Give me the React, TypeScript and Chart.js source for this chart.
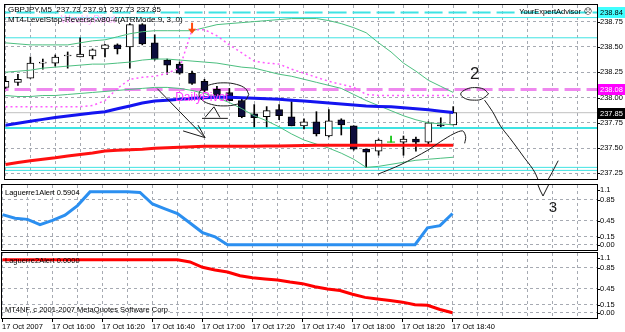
import React, { useEffect, useRef } from "react";
import { Chart, registerables } from "chart.js";

Chart.register(...registerables);

// ---------------- data ----------------
const HEADER_TEXT = "GBPJPY,M5  237.73 237.91 237.73 237.85";
const INDICATOR_TEXT = "MT4-LevelStop-Reverse-v80-4(ATRMode 9, 3, 0)";
const EA_TEXT = "YourExpertAdvisor";
const OSC1_TEXT = "Laguerre1Alert 0.5904";
const OSC2_TEXT = "Laguerre2Alert 0.0000";
const COPYRIGHT_TEXT = "MT4NF, c 2001-2007 MetaQuotes Software Corp.";
const WEEKLY_PIVOT_TEXT = "WeeklyPivot";
const DAILY_PIVOT_TEXT = "DailyPivot";

const X_LABELS = [
  "17 Oct 2007", "17 Oct 16:00", "17 Oct 16:20", "17 Oct 16:40", "17 Oct 17:00",
  "17 Oct 17:20", "17 Oct 17:40", "17 Oct 18:00", "17 Oct 18:20", "17 Oct 18:40",
];
const X_LABEL_BARS = [0, 4, 8, 12, 16, 20, 24, 28, 32, 36];

const OPEN = [238.10, 238.15, 238.19, 238.34, 238.34, 238.41, 238.40, 238.41, 238.48, 238.52, 238.50, 238.72, 238.54, 238.37, 238.33, 238.24, 238.16, 238.08, 238.05, 237.97, 237.84, 237.81, 237.88, 237.81, 237.72, 237.76, 237.62, 237.78, 237.72, 237.49, 237.47, 237.56, 237.56, 237.59, 237.56, 237.73, 237.73];
const HIGH = [238.21, 238.23, 238.40, 238.38, 238.42, 238.45, 238.59, 238.48, 238.525, 238.53, 238.73, 238.73, 238.62, 238.38, 238.35, 238.26, 238.18, 238.11, 238.09, 237.99, 237.93, 237.91, 237.93, 237.96, 237.79, 237.86, 237.88, 237.79, 237.72, 237.49, 237.59, 237.62, 237.62, 237.61, 237.76, 237.80, 237.91];
const LOW = [238.09, 238.12, 238.19, 238.28, 238.31, 238.29, 238.40, 238.38, 238.40, 238.43, 238.29, 238.52, 238.37, 238.23, 238.23, 238.13, 238.05, 238.00, 237.97, 237.80, 237.71, 237.71, 237.78, 237.72, 237.69, 237.62, 237.61, 237.63, 237.48, 237.31, 237.43, 237.56, 237.43, 237.47, 237.54, 237.71, 237.73];
const CLOSE = [238.16, 238.18, 238.34, 238.35, 238.40, 238.42, 238.43, 238.47, 238.52, 238.48, 238.72, 238.53, 238.38, 238.32, 238.24, 238.14, 238.07, 238.02, 237.97, 237.81, 237.80, 237.87, 237.82, 237.72, 237.76, 237.64, 237.77, 237.73, 237.49, 237.46, 237.58, 237.56, 237.59, 237.56, 237.75, 237.72, 237.85];

const MA_BLUE = [237.727, 237.746, 237.765, 237.784, 237.803, 237.817, 237.832, 237.846, 237.860, 237.889, 237.917, 237.946, 237.965, 237.974, 237.984, 237.993, 237.998, 238.003, 238.003, 237.998, 237.993, 237.988, 237.984, 237.974, 237.965, 237.955, 237.946, 237.936, 237.927, 237.917, 237.912, 237.908, 237.898, 237.889, 237.879, 237.865, 237.851];
const MA_RED = [237.338, 237.357, 237.376, 237.390, 237.404, 237.423, 237.437, 237.452, 237.471, 237.480, 237.485, 237.490, 237.499, 237.504, 237.509, 237.513, 237.518, 237.518, 237.518, 237.518, 237.518, 237.520, 237.522, 237.524, 237.526, 237.528, 237.528, 237.528, 237.528, 237.528, 237.528, 237.528, 237.528, 237.528, 237.528, 237.528, 237.528];
const BAND_UPPER = [238.54, 238.53, 238.52, 238.52, 238.52, 238.52, 238.54, 238.56, 238.57, 238.60, 238.63, 238.65, 238.66, 238.66, 238.66, 238.66, 238.69, 238.72, 238.73, 238.74, 238.75, 238.76, 238.77, 238.78, 238.78, 238.78, 238.76, 238.73, 238.69, 238.64, 238.54, 238.45, 238.34, 238.26, 238.17, 238.11, 238.05];
const BAND_MID = [238.25, 238.26, 238.27, 238.29, 238.30, 238.31, 238.32, 238.33, 238.33, 238.34, 238.35, 238.37, 238.38, 238.38, 238.37, 238.36, 238.35, 238.34, 238.32, 238.30, 238.29, 238.26, 238.23, 238.21, 238.18, 238.15, 238.12, 238.09, 238.03, 237.97, 237.92, 237.87, 237.82, 237.78, 237.75, 237.74, 237.73];
const BAND_LOWER = [238.02, 238.01, 238.01, 238.02, 238.02, 238.03, 238.04, 238.05, 238.06, 238.07, 238.08, 238.09, 238.10, 238.10, 238.09, 238.07, 238.04, 238.00, 237.95, 237.89, 237.82, 237.77, 237.71, 237.64, 237.58, 237.54, 237.50, 237.45, 237.39, 237.31, 237.32, 237.34, 237.36, 237.38, 237.39, 237.40, 237.41];
const STOP_LINE = [237.91, 237.91, 237.91, 237.91, 237.91, 237.91, 237.91, 237.92, 237.97, 238.09, 238.18, 238.20, 238.21, 238.24, 238.29, 238.67, 238.67, 238.61, 238.52, 238.44, 238.36, 238.34, 238.33, 238.28, 238.24, 238.20, 238.16, 238.13, 238.10, 238.03, 238.02, 238.02, 238.02, 238.02, 238.02, 238.02, 238.02];

const LAGUERRE1 = [0.57, 0.50, 0.48, 0.38, 0.46, 0.56, 0.74, 1, 1, 1, 1, 0.99, 0.77, 0.68, 0.59, 0.41, 0.23, 0.15, 0, 0, 0, 0, 0, 0, 0, 0, 0, 0, 0, 0, 0, 0, 0, 0, 0.32, 0.36, 0.5904];
const LAGUERRE2 = [1, 1, 1, 1, 1, 1, 1, 1, 1, 1, 1, 1, 1, 1, 1, 0.96, 0.86, 0.81, 0.77, 0.70, 0.66, 0.64, 0.62, 0.58, 0.55, 0.49, 0.45, 0.42, 0.35, 0.29, 0.26, 0.23, 0.20, 0.15, 0.14, 0.06, 0];

const PRICE_TICKS = [238.75, 238.5, 238.25, 238.0, 237.75, 237.5, 237.25];
const OSC_TICKS = [1.1, 0.85, 0.45, 0.15, 0];
const OSC_TICK_TEXT = ["1.1", "0.85", "0.45", "0.15", "0.00"];
const OSC_GRID = [0.85, 0.45, 0.15, 0];

const CYAN_LEVELS = [238.79, 238.59, 237.31, 237.28];
const CYAN_THICK_LEVEL = 237.70;
const CYAN_DASHED_LEVEL = 238.84;
const PIVOT_LEVEL = 238.08;
const BID = 237.85;

const SIGNAL_ARROW = [15, 238.63];
const WEEKLY_LABEL_AT = [4.44, 238.762];
const DAILY_LABEL_AT = [13.64, 238.0];
const NOTE_2_AT = [37.72, 238.231];
const NOTE_3_AT = [44.04, 0.695];

// hand-drawn annotations (bar index, price / oscillator value)
const NOTE_ARROW_SHAFT = [[12.2, 238.088], [16.04, 237.604]];
const NOTE_ARROW_HEAD = [[14.28, 237.67], [16.04, 237.604], [15.48, 237.727]];
const NOTE_OVAL_LEFT = [[19.56, 238.031], [19.3, 237.974], [18.56, 237.932], [17.56, 237.917], [16.56, 237.932], [15.82, 237.974], [15.56, 238.031], [15.82, 238.088], [16.56, 238.13], [17.56, 238.145], [18.56, 238.13], [19.3, 238.088], [19.56, 238.031]];
const NOTE_TRIANGLE = [[16.04, 237.803], [16.76, 237.908], [17.24, 237.803]];
const NOTE_BASE = [[15.8, 237.794], [17.88, 237.794]];
const NOTE_OVAL_RIGHT = [[38.84, 238.036], [38.28, 237.984], [37.72, 237.974], [37.0, 237.988], [36.6, 238.036], [37.08, 238.083], [37.72, 238.098], [38.44, 238.083], [38.84, 238.036]];
const NOTE_CURVE = [[38.52, 237.974], [39.16, 237.861], [39.8, 237.718], [40.52, 237.604], [41.16, 237.499], [41.72, 237.404], [42.2, 237.328], [42.6, 237.252], [42.92, 237.157]];
const NOTE_V_RIGHT = [[43.48, 237.157], [43.96, 237.262], [44.44, 237.376]];
const NOTE_V_OSC = [[42.68, 1.225], [43.0, 1.035], [43.24, 0.922], [43.56, 1.073], [43.96, 1.262]];
const NOTE_RISE = [[29.96, 237.243], [31.8, 237.338], [33.96, 237.48], [35.0, 237.566], [36.04, 237.642], [36.76, 237.67], [37.0, 237.613], [36.92, 237.547]];

// ---------------- styles ----------------
const X_MIN = -0.04;
const X_MAX = 47.56;
const GRID = "#a6aab2";
const CYAN = "#3fe3e3";
const PINK_DASH = "#ee88ee";
const PINK_DOT = "#ff5cff";
const GREEN_BAND = "#4cbf80";
const BLUE_MA = "#1414f0";
const RED_MA = "#ff1010";
const LAG_BLUE = "#2b8ff0";
const LAG_RED = "#ff0000";
const BEAR_FILL = "#0c0c3c";
const DOJI_GREEN = "#00c000";
const NOTE = "#1a1a1a";
const SMALL = "7.5px 'Liberation Sans', Arial, sans-serif";

const isDoji = (i: number) => OPEN[i] === CLOSE[i];

function seriesDs(values: number[], color: string, width: number, order: number, extra: any = {}) {
  return {
    type: "line",
    data: values.map((v, i) => ({ x: i, y: v })),
    borderColor: color,
    borderWidth: width,
    pointRadius: 0,
    fill: false,
    tension: 0,
    order,
    clip: 0,
    ...extra,
  };
}

function polyDs(points: number[][], color: string, width: number, order: number, extra: any = {}) {
  return {
    type: "line",
    data: points.map(([x, y]) => ({ x, y })),
    borderColor: color,
    borderWidth: width,
    pointRadius: 0,
    fill: false,
    tension: 0,
    order,
    clip: 0,
    ...extra,
  };
}

function levelDs(v: number, color: string, width: number, order: number, extra: any = {}) {
  return polyDs([[X_MIN - 1, v], [X_MAX + 1, v]], color, width, order, extra);
}

function baseOptions(yMin: number, yMax: number, padding: any) {
  return {
    responsive: false,
    animation: false,
    devicePixelRatio: 1,
    events: [],
    layout: { padding },
    plugins: { legend: { display: false }, tooltip: { enabled: false }, title: { display: false } },
    scales: {
      x: { type: "linear", min: X_MIN, max: X_MAX, display: false, offset: false },
      y: { type: "linear", min: yMin, max: yMax, display: false },
    },
  };
}

function panelPlugin(cfg: { gridY: number[]; ticks: number[]; tickText: string[]; draw?: (c: any) => void }) {
  return {
    id: "mt4panel",
    beforeDraw(chart: any) {
      const { ctx, chartArea: a } = chart;
      const xs = chart.scales.x;
      const ys = chart.scales.y;
      ctx.save();
      ctx.fillStyle = "#ffffff";
      ctx.fillRect(0, 0, chart.width, chart.height);
      ctx.strokeStyle = GRID;
      ctx.lineWidth = 1;
      ctx.setLineDash([3, 3]);
      ctx.beginPath();
      cfg.gridY.forEach((v) => {
        const y = Math.floor(ys.getPixelForValue(v)) + 0.5;
        ctx.moveTo(a.left, y);
        ctx.lineTo(a.right, y);
      });
      for (let b = 0; b <= X_MAX; b += 2) {
        const x = Math.floor(xs.getPixelForValue(b)) + 0.5;
        if (x > a.left && x < a.right) {
          ctx.moveTo(x, a.top);
          ctx.lineTo(x, a.bottom);
        }
      }
      ctx.stroke();
      ctx.restore();
    },
    afterDraw(chart: any) {
      const { ctx, chartArea: a } = chart;
      const ys = chart.scales.y;
      ctx.save();
      ctx.setLineDash([]);
      ctx.strokeStyle = "#000";
      ctx.lineWidth = 1;
      ctx.strokeRect(a.left - 0.5, a.top - 0.5, a.right - a.left + 1, a.bottom - a.top + 1);
      ctx.font = SMALL;
      ctx.textBaseline = "middle";
      ctx.textAlign = "left";
      ctx.fillStyle = "#000";
      cfg.ticks.forEach((v, i) => {
        let y = ys.getPixelForValue(v);
        y = Math.min(Math.max(y, a.top + 5), a.bottom - 4);
        const yy = Math.round(y) + 0.5;
        ctx.beginPath();
        ctx.moveTo(a.right + 0.5, yy);
        ctx.lineTo(a.right + 3, yy);
        ctx.stroke();
        ctx.fillText(cfg.tickText[i], a.right + 3, y);
      });
      if (cfg.draw) cfg.draw(chart);
      ctx.restore();
    },
  };
}

function priceBox(ctx: any, a: any, ys: any, v: number, bg: string, fg: string) {
  const y = ys.getPixelForValue(v);
  ctx.fillStyle = bg;
  ctx.fillRect(a.right + 1, Math.round(y) - 5, 28, 11);
  ctx.fillStyle = fg;
  ctx.font = SMALL;
  ctx.textAlign = "left";
  ctx.textBaseline = "middle";
  ctx.fillText(v.toFixed(2), a.right + 3, Math.round(y) + 0.5);
}

function buildMain() {
  const bars = OPEN.map((_, i) => i);
  const datasets: any[] = [
    levelDs(CYAN_DASHED_LEVEL, CYAN, 2, 20, { borderDash: [18, 6] }),
    ...CYAN_LEVELS.map((v) => levelDs(v, CYAN, 1, 20)),
    levelDs(CYAN_THICK_LEVEL, CYAN, 2, 20),
    levelDs(BID, "#c0c0c0", 1, 20),
    levelDs(PIVOT_LEVEL, PINK_DASH, 3, 19, { borderDash: [16, 6] }),
    {
      type: "bar",
      data: bars.map((i) => ({ x: i, y: [LOW[i], HIGH[i]] })),
      backgroundColor: (c: any) => (isDoji(c.dataIndex) ? DOJI_GREEN : "#000"),
      barThickness: 1,
      grouped: false,
      order: 12,
      clip: 0,
    },
    {
      type: "bar",
      data: bars.filter((i) => !isDoji(i)).map((i) => ({ x: i, y: [OPEN[i], CLOSE[i]] })),
      backgroundColor: (c: any) => {
        const p = c.raw;
        return p && p.y[1] > p.y[0] ? "#ffffff" : BEAR_FILL;
      },
      borderColor: "#000",
      borderWidth: 1,
      borderSkipped: false,
      barThickness: 7,
      grouped: false,
      order: 11,
      clip: 0,
    },
    {
      type: "line",
      data: bars.filter((i) => isDoji(i)).map((i) => ({ x: i, y: CLOSE[i] })),
      showLine: false,
      pointStyle: "line",
      pointRadius: 4,
      pointBorderColor: DOJI_GREEN,
      pointBorderWidth: 1,
      order: 11,
      clip: 0,
    },
    seriesDs(BAND_UPPER, GREEN_BAND, 1, 6),
    seriesDs(BAND_MID, GREEN_BAND, 1, 6),
    seriesDs(BAND_LOWER, GREEN_BAND, 1, 6),
    seriesDs(STOP_LINE, PINK_DOT, 1.5, 5, { borderDash: [2, 3] }),
    seriesDs(MA_RED, RED_MA, 3, 4),
    seriesDs(MA_BLUE, BLUE_MA, 3, 4),
    polyDs(NOTE_ARROW_SHAFT, NOTE, 1, 1),
    polyDs(NOTE_ARROW_HEAD, NOTE, 1, 1),
    polyDs(NOTE_OVAL_LEFT, NOTE, 1, 1, { tension: 0.4 }),
    polyDs(NOTE_TRIANGLE, NOTE, 1, 1),
    polyDs(NOTE_BASE, NOTE, 1, 1),
    polyDs(NOTE_OVAL_RIGHT, NOTE, 1, 1, { tension: 0.4 }),
    polyDs(NOTE_CURVE, NOTE, 1, 1, { tension: 0.3 }),
    polyDs(NOTE_V_RIGHT, NOTE, 1, 1),
    polyDs(NOTE_RISE, NOTE, 1, 1, { tension: 0.3 }),
  ];

  const draw = (chart: any) => {
    const { ctx, chartArea: a } = chart;
    const xs = chart.scales.x;
    const ys = chart.scales.y;
    ctx.textBaseline = "middle";
    ctx.textAlign = "left";
    ctx.font = "10px 'Liberation Sans', Arial, sans-serif";
    ctx.fillStyle = "#ffb4ff";
    ctx.fillText(WEEKLY_PIVOT_TEXT, xs.getPixelForValue(WEEKLY_LABEL_AT[0]), ys.getPixelForValue(WEEKLY_LABEL_AT[1]));
    ctx.font = "12px 'Liberation Sans', Arial, sans-serif";
    ctx.fillStyle = "#ff3cff";
    ctx.fillText(DAILY_PIVOT_TEXT, xs.getPixelForValue(DAILY_LABEL_AT[0]), ys.getPixelForValue(DAILY_LABEL_AT[1]));

    ctx.font = "8px 'Liberation Sans', Arial, sans-serif";
    ctx.fillStyle = "#000";
    ctx.fillText(HEADER_TEXT, a.left + 3, a.top + 5);
    ctx.fillText(INDICATOR_TEXT, a.left + 3, a.top + 15);

    ctx.font = SMALL;
    ctx.textAlign = "right";
    ctx.fillText(EA_TEXT, a.right - 16, a.top + 7);
    ctx.textAlign = "left";
    ctx.font = "8px 'DejaVu Sans', sans-serif";
    ctx.fillText("\u2639", a.right - 13, a.top + 7);

    // signal arrow
    const ax = xs.getPixelForValue(SIGNAL_ARROW[0]);
    const ay = ys.getPixelForValue(SIGNAL_ARROW[1]);
    ctx.fillStyle = "#ff4a10";
    ctx.fillRect(ax - 1, ay - 11, 2, 7);
    ctx.beginPath();
    ctx.moveTo(ax - 4, ay - 5);
    ctx.lineTo(ax + 4, ay - 5);
    ctx.lineTo(ax, ay);
    ctx.closePath();
    ctx.fill();

    // handwritten "2"
    ctx.fillStyle = NOTE;
    ctx.font = "17px 'Liberation Sans', Arial, sans-serif";
    ctx.textAlign = "center";
    ctx.fillText("2", xs.getPixelForValue(NOTE_2_AT[0]), ys.getPixelForValue(NOTE_2_AT[1]));

    priceBox(ctx, a, ys, CYAN_DASHED_LEVEL, "#40ffff", "#000");
    priceBox(ctx, a, ys, PIVOT_LEVEL, "#ff00ff", "#fff");
    priceBox(ctx, a, ys, BID, "#000000", "#fff");
  };

  return {
    type: "bar",
    data: { datasets },
    options: baseOptions(237.195, 238.914, { left: 2, top: 1, right: 28, bottom: 2 }),
    plugins: [panelPlugin({ gridY: PRICE_TICKS, ticks: PRICE_TICKS, tickText: PRICE_TICKS.map((v) => v.toFixed(2)), draw })],
  };
}

function buildOsc1() {
  const draw = (chart: any) => {
    const { ctx, chartArea: a } = chart;
    const xs = chart.scales.x;
    const ys = chart.scales.y;
    ctx.fillStyle = "#000";
    ctx.font = SMALL;
    ctx.textAlign = "left";
    ctx.textBaseline = "middle";
    ctx.fillText(OSC1_TEXT, a.left + 3, a.top + 7.5);
    ctx.fillStyle = NOTE;
    ctx.font = "15px 'Liberation Sans', Arial, sans-serif";
    ctx.textAlign = "center";
    ctx.fillText("3", xs.getPixelForValue(NOTE_3_AT[0]), ys.getPixelForValue(NOTE_3_AT[1]));
  };
  return {
    type: "line",
    data: {
      datasets: [
        seriesDs(LAGUERRE1, LAG_BLUE, 3, 2),
        polyDs(NOTE_V_OSC, NOTE, 1, 1),
      ],
    },
    options: baseOptions(-0.1, 1.13, { left: 2, top: 1, right: 28, bottom: 1 }),
    plugins: [panelPlugin({ gridY: OSC_GRID, ticks: OSC_TICKS, tickText: OSC_TICK_TEXT, draw })],
  };
}

function buildOsc2() {
  const draw = (chart: any) => {
    const { ctx, chartArea: a } = chart;
    const xs = chart.scales.x;
    ctx.fillStyle = "#000";
    ctx.font = SMALL;
    ctx.textAlign = "left";
    ctx.textBaseline = "middle";
    ctx.fillText(OSC2_TEXT, a.left + 3, a.top + 7.5);
    ctx.fillText(COPYRIGHT_TEXT, a.left + 3, a.bottom - 8);
    ctx.strokeStyle = "#000";
    ctx.lineWidth = 1;
    X_LABELS.forEach((t, i) => {
      const x = Math.floor(xs.getPixelForValue(X_LABEL_BARS[i]));
      ctx.beginPath();
      ctx.moveTo(x + 0.5, a.bottom + 1);
      ctx.lineTo(x + 0.5, a.bottom + 4);
      ctx.stroke();
      ctx.fillText(t, x, a.bottom + 9);
    });
  };
  return {
    type: "line",
    data: { datasets: [seriesDs(LAGUERRE2, LAG_RED, 3, 2)] },
    options: baseOptions(-0.1, 1.13, { left: 2, top: 2, right: 28, bottom: 14 }),
    plugins: [panelPlugin({ gridY: OSC_GRID, ticks: OSC_TICKS, tickText: OSC_TICK_TEXT, draw })],
  };
}

function PanelCanvas({ top, height, build }: { top: number; height: number; build: () => any }) {
  const ref = useRef<HTMLCanvasElement>(null);
  useEffect(() => {
    const chart = new Chart(ref.current as HTMLCanvasElement, build());
    return () => chart.destroy();
  }, []);
  return (
    <canvas
      ref={ref}
      width={625}
      height={height}
      style={{ position: "absolute", left: 0, top, width: 625, height, display: "block" }}
    />
  );
}

export default function App() {
  return (
    <div style={{ position: "absolute", left: 0, top: 0, width: 625, height: 332, background: "#fff", overflow: "hidden" }}>
      <PanelCanvas top={0} height={184} build={buildMain} />
      <PanelCanvas top={184} height={67} build={buildOsc1} />
      <PanelCanvas top={251} height={81} build={buildOsc2} />
    </div>
  );
}
